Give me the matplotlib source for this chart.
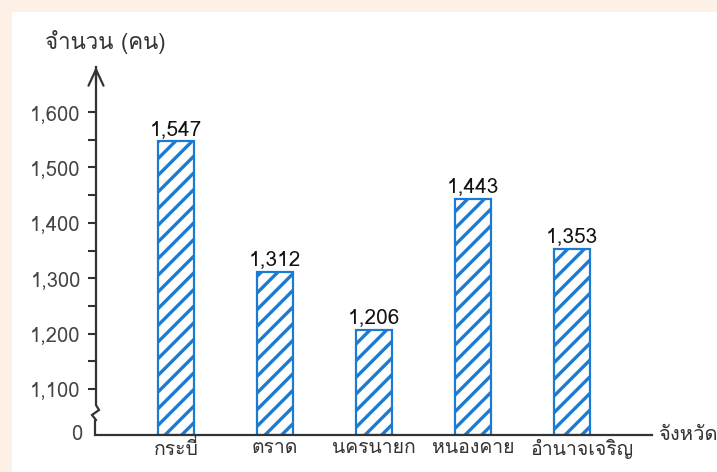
import matplotlib
matplotlib.use("Agg")
import matplotlib.pyplot as plt
import matplotlib.transforms as mtransforms
from matplotlib import font_manager
from matplotlib.ft2font import FT2Font
from matplotlib.patches import Rectangle

# ---------------- data ----------------
provinces = ["กระบี่", "ตราด", "นครนายก", "หนองคาย", "อำนาจเจริญ"]
counts = [1547, 1312, 1206, 1443, 1353]
count_labels = ["1,547", "1,312", "1,206", "1,443", "1,353"]
ytick_values = [1100, 1200, 1300, 1400, 1500, 1600]
ytick_labels = ["1,100", "1,200", "1,300", "1,400", "1,500", "1,600"]
yminor_values = [1150, 1250, 1350, 1450, 1550]
y_title = "จำนวน (คน)"
x_title = "จังหวัด"
zero_label = "0"

# ---------------- font with Thai glyphs (if any) ----------------
thai_family = None
for fe in font_manager.fontManager.ttflist:
    try:
        f = FT2Font(fe.fname)
        cmap = f.get_charmap()
        if 0x0E01 in cmap and 0x0E33 in cmap:
            thai_family = fe.name
            break
    except Exception:
        continue
families = ([thai_family] if thai_family else []) + ["DejaVu Sans"]
plt.rcParams["font.family"] = families

W, H = 717, 472
fig = plt.figure(figsize=(W / 100, H / 100), dpi=100)
fig.patch.set_facecolor("#FDF0E7")
fig.patches.append(Rectangle((12 / W, 0), 1 - 12 / W, (H - 12) / H,
                             transform=fig.transFigure, facecolor="white",
                             edgecolor="none", zorder=-5))

# axes placement in pixels
ax_left, ax_right = 96, 652
ax_bottom_px, ax_top_px = 435, 65  # from top of image
ax = fig.add_axes([ax_left / W, (H - ax_bottom_px) / H,
                   (ax_right - ax_left) / W, (ax_bottom_px - ax_top_px) / H])
ax.set_facecolor("none")

y0 = 1017   # value position where the (broken) axis shows "0"
ytop = 1685
ax.set_ylim(y0, ytop)
ax.set_xlim(-0.81, 4.81)

x = list(range(len(provinces)))
blue = "#1C7BD0"
plt.rcParams["hatch.linewidth"] = 2.4
bars = ax.bar(x, [c - y0 for c in counts], bottom=y0, width=0.36,
              facecolor="white", edgecolor=blue, hatch="//", linewidth=1.6,
              zorder=3)

for xi, c, lab in zip(x, counts, count_labels):
    ax.annotate(lab, (xi, c), xytext=(0, 2), textcoords="offset points",
                ha="center", va="bottom", fontsize=15, color="#111111")

for s in ["top", "right", "left", "bottom"]:
    ax.spines[s].set_visible(False)

axis_col = "#333333"
# x axis line
ax.axhline(y0, color=axis_col, lw=1.6, zorder=4, clip_on=False)

# y axis with break and arrow
bt = mtransforms.blended_transform_factory(ax.transAxes, ax.transData)
px = 1.0 / (ax_right - ax_left)
upp = (ytop - y0) / (ax_bottom_px - ax_top_px)  # value units per pixel
brk_top = y0 + 30 * upp
xs = [0, 0, 3 * px, -4 * px, 0, -1 * px, -1 * px]
ys = [ytop - 2 * upp, brk_top, brk_top - 5 * upp, brk_top - 10 * upp,
      brk_top - 15 * upp, brk_top - 16 * upp, y0]
ax.plot(xs, ys, transform=bt, color=axis_col, lw=1.6, clip_on=False,
        solid_joinstyle="miter", zorder=4)
ax.annotate("", xy=(0, ytop + 1 * upp), xycoords=bt,
            xytext=(0, ytop - 20 * upp), textcoords=bt,
            arrowprops=dict(arrowstyle="->,head_width=0.3,head_length=0.65",
                            color=axis_col, lw=1.6, mutation_scale=18),
            annotation_clip=False)

# y ticks
ax.set_yticks(ytick_values)
ax.set_yticklabels(ytick_labels)
ax.set_yticks(yminor_values, minor=True)
ax.tick_params(axis="y", which="both", direction="out", length=6, width=1.5,
               color=axis_col, labelsize=14.5, labelcolor="#444444", pad=5)
ax.text(-14 * px, y0, zero_label, transform=bt, ha="right", va="center",
        fontsize=14.5, color="#444444")

# x ticks
ax.set_xticks(x)
ax.set_xticklabels(provinces)
ax.tick_params(axis="x", length=0, labelsize=14, labelcolor="#333333", pad=3)
last = ax.get_xticklabels()[-1]
last.set_transform(last.get_transform() +
                   mtransforms.ScaledTranslation(10 / 100, 0, fig.dpi_scale_trans))

# axis titles
fig.text(45 / W, (H - 42) / H, y_title, ha="left", va="center",
         fontsize=16, color="#333333")
ax.text(1 + 6 * px, y0, x_title, transform=bt, ha="left", va="center",
        fontsize=14.5, color="#333333", clip_on=False)

fig.savefig("out.png", dpi=100, facecolor=fig.get_facecolor())
